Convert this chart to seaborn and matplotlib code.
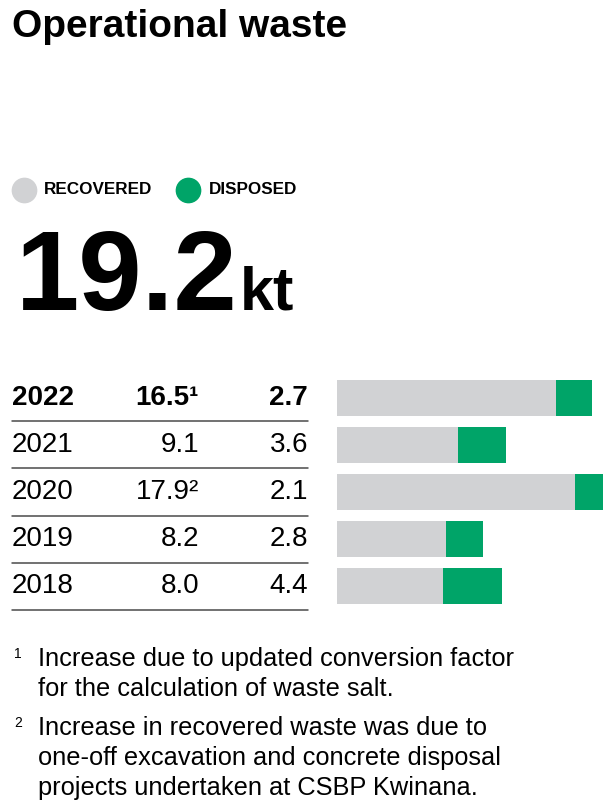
import matplotlib
matplotlib.use("Agg")
import matplotlib.pyplot as plt
import matplotlib.transforms as mtransforms
from matplotlib.lines import Line2D
import seaborn as sns
import pandas as pd

years = ["2022", "2021", "2020", "2019", "2018"]
recovered = [16.5, 9.1, 17.9, 8.2, 8.0]
disposed = [2.7, 3.6, 2.1, 2.8, 4.4]
recovered_labels = ["16.5¹", "9.1", "17.9²", "8.2", "8.0"]
disposed_labels = ["2.7", "3.6", "2.1", "2.8", "4.4"]
headline = "19.2"
headline_unit = "kt"
title = "Operational waste"
footnotes = [
    ("1", ["Increase due to updated conversion factor",
           "for the calculation of waste salt."]),
    ("2", ["Increase in recovered waste was due to",
           "one-off excavation and concrete disposal",
           "projects undertaken at CSBP Kwinana."]),
]

GRAY = "#d1d2d4"
GREEN = "#00a468"

sns.set_theme(style="white")
plt.rcParams["font.family"] = ["Liberation Sans", "DejaVu Sans"]
plt.rcParams["text.color"] = "black"

W, H = 614, 809
fig = plt.figure(figsize=(W / 100, H / 100), dpi=100)

def fx(px):
    return px / W

def fy(py):
    return 1 - py / H

df = pd.DataFrame({"year": years, "recovered": recovered, "disposed": disposed})
df["total"] = df["recovered"] + df["disposed"]

# bar axes: 1 kt ~ 13.28 px, rows 47 px apart
top, bottom, left = 374.5, 609.5, 337
ax = fig.add_axes([fx(left), fy(bottom), fx(W - left), (bottom - top) / H])
sns.barplot(data=df, x="total", y="year", color=GREEN, orient="h", width=0.77,
            linewidth=0, saturation=1, ax=ax)
sns.barplot(data=df, x="recovered", y="year", color=GRAY, orient="h", width=0.77,
            linewidth=0, saturation=1, ax=ax)
ax.set_xlim(0, (W - left) / 13.28)
ax.set_ylim(4.5, -0.5)
ax.axis("off")

# table text, rows tied to bar rows
tr = mtransforms.blended_transform_factory(fig.transFigure, ax.transData)
for i, yr in enumerate(years):
    w = "bold" if i == 0 else "normal"
    kw = dict(transform=tr, va="center", fontsize=20, fontweight=w)
    fig.text(fx(12), i, yr, ha="left", **kw)
    fig.text(fx(199), i, recovered_labels[i], ha="right", **kw)
    fig.text(fx(308), i, disposed_labels[i], ha="right", **kw)
    fig.add_artist(Line2D([fx(12), fx(308)], [i + 0.5, i + 0.5], transform=tr,
                          color="#4a4a4a", lw=1.1))

# title
fig.text(fx(12), fy(37), title, fontsize=28, fontweight="bold", va="baseline", ha="left")

# legend
for cx, tx, col, lab in [(24, 44, GRAY, "RECOVERED"), (188, 209, GREEN, "DISPOSED")]:
    fig.add_artist(Line2D([fx(cx)], [fy(190)], marker="o", markersize=17.5,
                          color=col, transform=fig.transFigure))
    fig.text(fx(tx), fy(190), lab, fontsize=12.3, fontweight="bold", va="center", ha="left")

# headline value
fig.text(fx(16), fy(310), headline, fontsize=82, fontweight="bold", va="baseline", ha="left")
fig.text(fx(240), fy(310), headline_unit, fontsize=44, fontweight="bold", va="baseline", ha="left")

# footnotes
y0 = 666
for num, lines in footnotes:
    fig.text(fx(14), fy(y0 - 8), num, fontsize=10, va="baseline", ha="left")
    for ln in lines:
        fig.text(fx(38), fy(y0), ln, fontsize=18.3, va="baseline", ha="left")
        y0 += 30
    y0 += 9

fig.savefig("out.png", dpi=100)
